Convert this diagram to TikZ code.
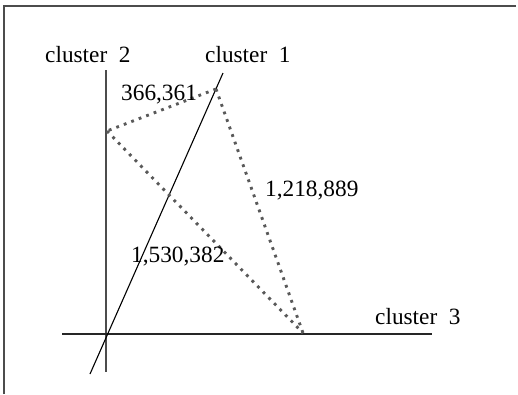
\documentclass[tikz,border=0pt]{standalone}
\usepackage{fontspec}
\setmainfont{Liberation Serif}
\begin{document}
\begin{tikzpicture}[x=1pt,y=-1pt,
  axis/.style={line width=1.1pt,color=black!70},
  frameline/.style={line width=1.6pt,color=black!70},
  dist/.style={line width=2.9pt,color=black!65,dash pattern=on 2.8pt off 5.2pt},
  lbl/.style={anchor=base west,inner sep=0pt,font=\fontsize{23.3}{27}\selectfont}]
\useasboundingbox (0,0) rectangle (518,394);
% frame
\draw[frameline] (4,394) -- (4,6) -- (516,6);
% axes
\coordinate (c2top) at (106,70);
\coordinate (c2bot) at (106,372);
\coordinate (c3left) at (62,334);
\coordinate (c3right) at (432,334);
\coordinate (c1top) at (223,73);
\coordinate (c1bot) at (90,374);
\draw[axis] (c2top) -- (c2bot);
\draw[axis,color=black!85] (c3left) -- (c3right);
\draw[axis,color=black] (c1top) -- (c1bot);
% cluster points
\coordinate (A) at (216,89);
\coordinate (B) at (107,131);
\coordinate (C) at (303,333);
\draw[dist] (A) -- (B);
\draw[dist] (B) -- (C);
\draw[dist] (A) -- (C);
% labels
\node[lbl] (l2) at (45,62) {cluster\ \ 2};
\node[lbl] (l1) at (205,62) {cluster\ \ 1};
\node[lbl] (l3) at (375,324) {cluster\ \ 3};
\node[lbl] (dAB) at (121,100) {366,361};
\node[lbl] (dAC) at (265,196) {1,218,889};
\node[lbl] (dBC) at (131,262) {1,530,382};
\end{tikzpicture}
\end{document}
